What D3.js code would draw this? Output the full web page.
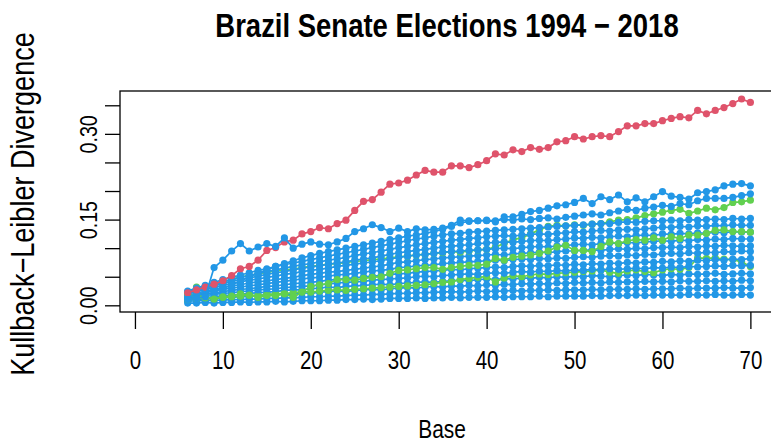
<!DOCTYPE html>
<html>
<head>
<meta charset="utf-8">
<script src="https://cdn.jsdelivr.net/npm/d3@7"></script>
<style>
    body { margin: 0; background: #fff; }
    text { font-family: "Liberation Sans", Arial, Helvetica, sans-serif; fill: #000; }
</style>
</head>
<body>
<svg id="chart" width="771" height="442"></svg>
<script>
(function () {
    'use strict';

    // Base values (x axis)
    const bases = [6, 7, 8, 9, 10, 11, 12, 13, 14, 15, 16, 17, 18, 19, 20, 21, 22, 23, 24, 25,
        26, 27, 28, 29, 30, 31, 32, 33, 34, 35, 36, 37, 38, 39, 40, 41, 42, 43, 44, 45,
        46, 47, 48, 49, 50, 51, 52, 53, 54, 55, 56, 57, 58, 59, 60, 61, 62, 63, 64, 65,
        66, 67, 68, 69, 70];

    const xTicks = [0, 10, 20, 30, 40, 50, 60, 70];
    const yTicks = [0, 0.05, 0.10, 0.15, 0.20, 0.25, 0.30, 0.35];
    const yTickLabels = { 0: '0.00', 0.15: '0.15', 0.30: '0.30' };

    // Kullback-Leibler divergence per base
    const red1 = [.022, .027, .032, .037, .043, .052, .064, .068, .079, .096,
        .101, .111, .114, .125, .129, .136, .134, .143, .149, .166,
        .182, .185, .198, .212, .214, .219, .228, .236, .233, .233,
        .244, .244, .241, .246, .253, .265, .263, .272, .269, .276,
        .273, .276, .286, .288, .295, .291, .295, .297, .295, .304,
        .314, .314, .318, .318, .323, .327, .330, .328, .341, .335,
        .341, .346, .353, .361, .355];

    const green1 = [.021, .032, .032, .035, .041, .045, .050, .052, .055, .058,
        .060, .062, .063, .066, .068, .070, .072, .073, .075, .077,
        .078, .080, .081, .083, .085, .086, .088, .089, .091, .092,
        .094, .093, .095, .097, .098, .102, .108, .115, .118, .125,
        .132, .138, .140, .139, .141, .140, .142, .143, .146, .149,
        .150, .153, .157, .160, .163, .166, .168, .161, .165, .170,
        .167, .171, .180, .181, .184];
    const green2 = [.018, .016, .015, .011, .015, .016, .020, .018, .014, .017,
        .017, .020, .014, .023, .033, .036, .038, .045, .045, .044,
        .047, .049, .050, .056, .061, .062, .064, .066, .066, .063,
        .066, .068, .070, .070, .072, .082, .079, .084, .086, .088,
        .091, .095, .102, .105, .096, .096, .094, .103, .111, .108,
        .113, .115, .114, .118, .114, .120, .117, .123, .123, .126,
        .131, .132, .129, .129, .128];
    const green3 = [.010, .012, .013, .012, .014, .015, .016, .018, .017, .019,
        .020, .021, .022, .024, .023, .025, .026, .027, .026, .028,
        .029, .030, .031, .032, .033, .034, .035, .036, .038, .040,
        .041, .045, .047, .049, .050, .041, .048, .052, .050, .053,
        .055, .054, .056, .057, .058, .059, .060, .062, .058, .056,
        .060, .062, .059, .057, .062, .064, .063, .066, .083, .082,
        .083, .081, .080, .076, .068];

    const blueTop1 = [.010, .012, .015, .066, .079, .095, .108, .095, .102, .108,
        .103, .118, .100, .107, .111, .107, .106, .111, .117, .129,
        .134, .141, .136, .129, .135, .129, .134, .132, .133, .135,
        .140, .149, .148, .148, .148, .146, .155, .155, .159, .164,
        .166, .170, .174, .176, .180, .187, .178, .190, .185, .193,
        .181, .188, .181, .190, .199, .191, .189, .186, .197, .199,
        .202, .209, .212, .213, .209];
    const blueTop2 = [.015, .018, .022, .026, .030, .036, .042, .050, .056, .062,
        .068, .073, .078, .083, .087, .091, .094, .097, .100, .103,
        .106, .109, .112, .115, .118, .121, .123, .126, .129, .133,
        .138, .144, .147, .148, .149, .148, .150, .149, .151, .150,
        .152, .153, .151, .154, .156, .158, .160, .158, .162, .165,
        .168, .166, .170, .172, .175, .173, .178, .176, .183, .187,
        .187, .187, .189, .192, .195];
    const blue1 = [.004, .004, .005, .004, .005, .005, .006, .005, .006, .006,
        .007, .006, .007, .008, .008, .008, .009, .009, .010, .010,
        .011, .010, .011, .012, .012, .012, .013, .012, .013, .013,
        .014, .013, .014, .014, .014, .015, .014, .015, .015, .015,
        .016, .015, .016, .016, .016, .016, .017, .016, .017, .017,
        .017, .018, .017, .018, .018, .018, .018, .019, .018, .018,
        .019, .018, .018, .019, .018];
    const blue2 = [.007, .008, .008, .009, .009, .010, .010, .011, .011, .012,
        .012, .013, .013, .014, .015, .015, .016, .016, .017, .018,
        .018, .019, .019, .020, .021, .021, .022, .022, .023, .023,
        .024, .023, .024, .025, .024, .025, .025, .026, .025, .026,
        .026, .027, .026, .027, .027, .027, .028, .027, .028, .028,
        .028, .029, .028, .029, .029, .029, .030, .029, .030, .030,
        .030, .031, .030, .030, .031];
    const blue3 = [.009, .010, .011, .012, .013, .014, .015, .015, .017, .018,
        .019, .019, .020, .022, .021, .023, .024, .025, .024, .026,
        .027, .028, .027, .029, .030, .031, .030, .032, .033, .032,
        .034, .033, .035, .034, .036, .035, .037, .036, .038, .037,
        .038, .037, .039, .038, .040, .039, .040, .039, .041, .040,
        .041, .040, .042, .041, .042, .041, .043, .042, .042, .043,
        .042, .043, .042, .044, .043];
    const blue4 = [.011, .013, .014, .015, .017, .018, .019, .021, .022, .023,
        .024, .026, .027, .027, .029, .030, .032, .031, .033, .034,
        .035, .036, .037, .036, .038, .039, .040, .041, .040, .042,
        .043, .044, .043, .045, .046, .045, .047, .046, .048, .047,
        .049, .048, .050, .049, .051, .050, .052, .051, .050, .052,
        .053, .052, .054, .053, .052, .054, .053, .055, .054, .055,
        .056, .054, .055, .056, .055];
    const blue5 = [.013, .015, .017, .019, .021, .022, .024, .025, .027, .028,
        .029, .031, .032, .033, .034, .036, .037, .039, .040, .041,
        .042, .044, .045, .046, .047, .048, .050, .051, .050, .052,
        .053, .054, .055, .054, .056, .057, .056, .058, .059, .058,
        .060, .059, .061, .060, .062, .061, .063, .062, .064, .063,
        .064, .065, .064, .066, .065, .067, .066, .068, .067, .068,
        .069, .068, .070, .069, .070];
    const blue6 = [.014, .017, .019, .022, .024, .026, .028, .029, .031, .033,
        .034, .036, .038, .039, .040, .042, .044, .045, .047, .048,
        .050, .051, .052, .054, .055, .056, .058, .059, .060, .061,
        .063, .062, .064, .065, .066, .067, .066, .068, .069, .068,
        .070, .069, .071, .070, .072, .071, .073, .072, .074, .073,
        .075, .074, .076, .075, .077, .076, .078, .077, .079, .078,
        .080, .079, .081, .080, .082];
    const blue7 = [.016, .019, .022, .025, .028, .030, .032, .034, .036, .038,
        .040, .042, .044, .046, .048, .049, .051, .053, .054, .056,
        .058, .060, .061, .063, .066, .067, .069, .070, .071, .073,
        .074, .075, .076, .077, .078, .079, .078, .080, .081, .080,
        .082, .081, .083, .082, .084, .085, .084, .086, .087, .086,
        .088, .087, .089, .088, .090, .091, .090, .092, .091, .093,
        .092, .094, .093, .095, .094];
    const blue8 = [.018, .021, .025, .028, .031, .034, .036, .039, .041, .043,
        .045, .047, .049, .052, .054, .056, .058, .059, .061, .063,
        .065, .067, .069, .072, .075, .076, .078, .080, .081, .083,
        .084, .085, .086, .087, .088, .089, .088, .090, .091, .092,
        .093, .092, .094, .095, .095, .096, .097, .096, .098, .099,
        .098, .100, .099, .101, .101, .102, .101, .103, .102, .104,
        .103, .105, .104, .103, .104];
    const blue9 = [.020, .024, .028, .031, .035, .038, .041, .044, .046, .049,
        .051, .054, .056, .059, .061, .063, .065, .068, .070, .072,
        .074, .076, .078, .081, .084, .086, .088, .089, .091, .093,
        .094, .095, .096, .097, .098, .099, .100, .099, .101, .102,
        .103, .102, .104, .105, .106, .107, .106, .108, .109, .108,
        .110, .109, .111, .112, .113, .112, .114, .113, .115, .114,
        .116, .115, .117, .116, .116];
    const blue10 = [.022, .026, .030, .034, .038, .042, .045, .048, .051, .054,
        .057, .059, .062, .065, .067, .069, .072, .074, .076, .079,
        .081, .083, .086, .089, .092, .094, .096, .098, .100, .102,
        .103, .105, .106, .108, .109, .110, .111, .110, .112, .113,
        .114, .113, .115, .116, .118, .117, .119, .118, .120, .121,
        .120, .122, .123, .122, .125, .124, .126, .125, .127, .126,
        .128, .127, .129, .128, .128];
    const blue11 = [.023, .028, .033, .037, .041, .045, .049, .052, .056, .059,
        .062, .065, .068, .071, .073, .076, .079, .081, .084, .087,
        .090, .092, .095, .098, .101, .103, .106, .108, .110, .112,
        .114, .115, .117, .118, .120, .121, .122, .121, .123, .124,
        .125, .124, .126, .127, .129, .128, .130, .131, .130, .132,
        .133, .132, .134, .135, .137, .136, .138, .137, .139, .138,
        .140, .139, .141, .140, .140];
    const blue12 = [.025, .030, .035, .040, .045, .049, .053, .057, .061, .064,
        .068, .071, .074, .077, .080, .083, .086, .089, .092, .095,
        .098, .101, .104, .107, .110, .113, .116, .118, .121, .123,
        .125, .126, .128, .129, .130, .131, .132, .133, .134, .135,
        .136, .137, .138, .139, .140, .141, .142, .143, .143, .145,
        .146, .145, .147, .148, .148, .149, .148, .150, .149, .150,
        .151, .150, .152, .151, .152];

    const RED = '#DF536B', GREEN = '#61D04F', BLUE = '#2297E6';

    // order in which the lines are put down (later ones sit on top)
    const drawOrder = [
        { values: blue1, color: BLUE }, { values: blue2, color: BLUE },
        { values: blue3, color: BLUE }, { values: blue4, color: BLUE },
        { values: green3, color: GREEN },
        { values: blue5, color: BLUE }, { values: blue6, color: BLUE },
        { values: blue7, color: BLUE }, { values: blue8, color: BLUE },
        { values: green1, color: GREEN },
        { values: blue9, color: BLUE }, { values: blue10, color: BLUE },
        { values: blue11, color: BLUE }, { values: blue12, color: BLUE },
        { values: green2, color: GREEN },
        { values: blueTop2, color: BLUE },
        { values: red1, color: RED },
        { values: blueTop1, color: BLUE }
    ];

    let box = { left: 120, right: 775, top: 91, bottom: 312 };
    // the reference uses a narrow Helvetica; squeeze glyphs along the baseline
    let narrow = 'scale(0.82,1)';

    let svg = d3.select('#chart');
    svg.append('rect').attr('width', 771).attr('height', 442).attr('fill', '#fff');

    let xScale = d3.scaleLinear()
        .domain([-1.7, 72.8])
        .range([box.left, box.right]);
    let yScale = d3.scaleLinear()
        .domain([-0.0117, 0.375])
        .range([box.bottom, box.top]);

    let line = d3.line()
        .x(function (d, i) { return xScale(bases[i]); })
        .y(function (d) { return yScale(d); });

    let mainArea = svg.append('g').attr('class', 'main-area');
    drawOrder.forEach(function (s) {
        let g = mainArea.append('g');
        g.append('path')
            .attr('d', line(s.values))
            .attr('fill', 'none')
            .attr('stroke', s.color)
            .attr('stroke-width', 1.7);
        g.selectAll('circle')
            .data(s.values)
            .enter()
            .append('circle')
            .attr('cx', function (d, i) { return xScale(bases[i]); })
            .attr('cy', function (d) { return yScale(d); })
            .attr('r', 3.6)
            .attr('fill', s.color);
    });

    // plot box
    svg.append('rect')
        .attr('x', box.left)
        .attr('y', box.top)
        .attr('width', box.right - box.left)
        .attr('height', box.bottom - box.top)
        .attr('fill', 'none')
        .attr('stroke', '#000')
        .attr('stroke-width', 1.3);

    // x axis
    let xAxis = d3.axisBottom(xScale)
        .tickValues(xTicks)
        .tickSize(17)
        .tickPadding(22)
        .tickFormat(d3.format('d'));
    let gx = svg.append('g')
        .attr('transform', 'translate(0,' + box.bottom + ')')
        .call(xAxis);
    gx.select('.domain').remove();
    gx.selectAll('line').attr('stroke-width', 1.3);
    gx.selectAll('text')
        .style('font-size', '25px')
        .attr('transform', narrow);

    // y axis
    let yAxis = d3.axisLeft(yScale)
        .tickValues(yTicks)
        .tickSize(15)
        .tickFormat(function (d) { return yTickLabels[d] || ''; });
    let gy = svg.append('g')
        .attr('transform', 'translate(' + box.left + ',0)')
        .call(yAxis);
    gy.select('.domain').remove();
    gy.selectAll('line').attr('stroke-width', 1.3);
    gy.selectAll('text')
        .style('font-size', '24px')
        .attr('x', null)
        .attr('dy', null)
        .attr('text-anchor', 'middle')
        .attr('transform', 'translate(-23,0) rotate(-90) ' + narrow);

    // titles
    svg.append('text')
        .attr('text-anchor', 'middle')
        .attr('transform', 'translate(447,37) ' + narrow)
        .style('font-size', '33.5px')
        .style('font-weight', 'bold')
        .text('Brazil Senate Elections 1994 \u2212 2018');
    svg.append('text')
        .attr('text-anchor', 'middle')
        .attr('transform', 'translate(442,438) ' + narrow)
        .style('font-size', '25.5px')
        .text('Base');
    svg.append('text')
        .attr('text-anchor', 'middle')
        .attr('transform', 'translate(33.5,204) rotate(-90) ' + narrow)
        .style('font-size', '33px')
        .text('Kullback\u2212Leibler Divergence');
})();
</script>
</body>
</html>
